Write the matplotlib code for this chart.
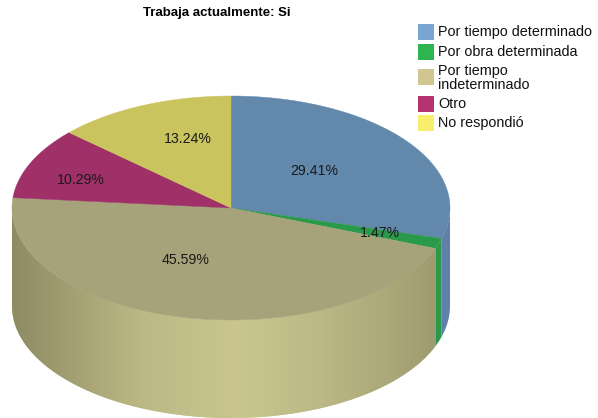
import numpy as np
import matplotlib
matplotlib.use('Agg')
import matplotlib.pyplot as plt
from matplotlib.patches import Polygon

plt.rcParams['font.family'] = ['Liberation Sans', 'DejaVu Sans']

title = 'Trabaja actualmente: Si'
labels = ['Por tiempo determinado', 'Por obra determinada', 'Por tiempo\nindeterminado', 'Otro', 'No respondió']
values = [29.41, 1.47, 45.59, 10.29, 13.24]
top_colors = ['#6288ac', '#2a9a4a', '#a6a27a', '#a03068', '#c9c45e']
wall_colors = ['#5f80a8', '#2a9a4a', '#c6c28c', '#a03068', '#c9c45e']
legend_colors = ['#7ba6d3', '#2eb54f', '#cfc692', '#b4346f', '#f6ee6c']
label_pos = [(314, 171), (380, 233), (186, 260), (81, 180), (188, 139)]

# pie geometry in pixels
cx, cy = 231, 208
rx, ry = 219, 112
depth = 98

fig = plt.figure(figsize=(5.98, 4.18), dpi=100)
ax = fig.add_axes([0, 0, 1, 1])

# slices go clockwise from 12 o'clock
edges = 90 - np.cumsum([0] + values) * 3.6

# brightness of the tan wall across the cylinder
shade_x = [12, 60, 140, 240, 320, 390, 436]
shade_k = [0.72, 0.80, 0.95, 1.02, 0.95, 0.86, 0.80]

for i in range(len(values)):
    a0, a1 = max(edges[i + 1], -180), min(edges[i], 0)
    if a1 <= a0:
        continue
    th = np.radians(np.linspace(a0, a1, 200))
    xs = cx + rx * np.cos(th)
    ys = cy - ry * np.sin(th)
    poly = Polygon(np.column_stack([np.r_[xs, xs[::-1]], np.r_[ys, ys[::-1] + depth]]),
                   closed=True, fc=wall_colors[i], ec='none', zorder=1)
    ax.add_patch(poly)
    if i == 2:
        gx = np.arange(12, 437)
        k = np.interp(gx, shade_x, shade_k)
        rgb = np.array(matplotlib.colors.to_rgb(wall_colors[i]))
        grad = np.clip(k[None, :, None] * rgb, 0, 1)
        im = ax.imshow(grad, extent=(12, 437, 418, 208), aspect='auto', zorder=1.5)
        im.set_clip_path(poly)

ax.set_xlim(0, 598)
ax.set_ylim(418, 0)
ax.axis('off')

for i in range(len(values)):
    th = np.radians(np.linspace(edges[i], edges[i + 1], 200))
    xs = np.concatenate([[cx], cx + rx * np.cos(th)])
    ys = np.concatenate([[cy], cy - ry * np.sin(th)])
    ax.fill(xs, ys, color=top_colors[i], lw=0.3, zorder=2)
    ax.text(label_pos[i][0], label_pos[i][1], '%.2f%%' % values[i], ha='center', va='center',
            fontsize=10.2, color='#1a1a1a', zorder=3)

ax.text(217, 13, title, ha='center', va='center', fontsize=9.5, fontweight='bold', color='black')

box_y = [32, 51.5, 77, 104, 123]
text_y = [32, 51.5, 78, 104, 123]
for i in range(len(labels)):
    ax.add_patch(plt.Rectangle((418, box_y[i] - 8), 16, 16, color=legend_colors[i], lw=0))
    ax.text(438, text_y[i], labels[i], ha='left', va='center', fontsize=10.4, linespacing=0.95, color='#111111')

fig.savefig('out.png', dpi=100)
